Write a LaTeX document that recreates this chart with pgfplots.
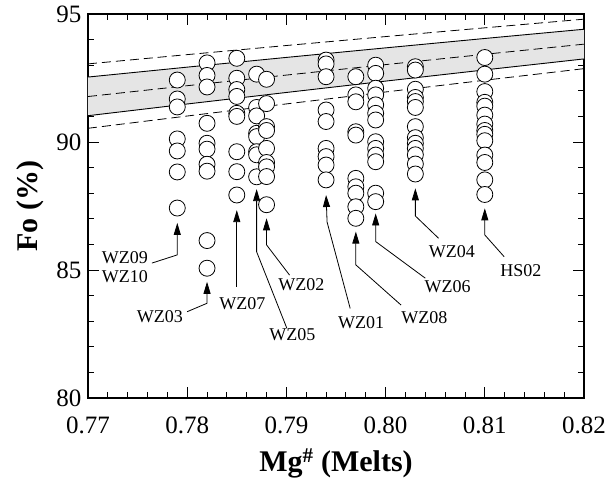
\documentclass[border=0pt]{standalone}
\usepackage{fontspec}
\setmainfont{Liberation Serif}
\usepackage{pgfplots}
\pgfplotsset{compat=1.18}
\usetikzlibrary{arrows.meta}
\pgfplotstableread{
x y
0.779 92.42
0.779 91.68
0.779 91.37
0.779 90.12
0.779 89.65
0.779 88.83
0.779 87.42
0.782 93.09
0.782 92.60
0.782 92.15
0.782 90.73
0.782 89.95
0.782 89.72
0.782 89.13
0.782 88.86
0.782 86.15
0.782 85.07
0.785 93.27
0.785 92.49
0.785 92.05
0.785 91.78
0.785 91.12
0.785 91.00
0.785 89.62
0.785 88.84
0.785 87.93
0.787 92.65
0.787 91.35
0.787 91.02
0.787 90.34
0.787 90.21
0.787 89.62
0.787 89.50
0.787 88.64
0.788 92.45
0.788 91.50
0.788 90.60
0.788 90.45
0.788 89.75
0.788 89.20
0.788 89.03
0.788 88.65
0.788 87.55
0.794 93.20
0.794 93.05
0.794 92.55
0.794 91.25
0.794 90.80
0.794 89.75
0.794 89.43
0.794 89.10
0.794 88.52
0.797 92.55
0.797 91.84
0.797 91.57
0.797 90.40
0.797 90.27
0.797 88.58
0.797 88.25
0.797 88.00
0.797 87.47
0.797 87.02
0.799 93.00
0.799 92.68
0.799 92.10
0.799 91.84
0.799 91.45
0.799 91.12
0.799 90.86
0.799 90.01
0.799 89.75
0.799 89.49
0.799 89.23
0.799 88.00
0.799 87.67
0.803 92.94
0.803 92.81
0.803 92.06
0.803 91.74
0.803 91.58
0.803 91.35
0.803 90.60
0.803 90.17
0.803 89.95
0.803 89.75
0.803 89.50
0.803 89.14
0.803 88.75
0.810 93.30
0.810 92.65
0.810 91.97
0.810 91.55
0.810 91.40
0.810 91.05
0.810 90.70
0.810 90.45
0.810 90.30
0.810 90.05
0.810 89.49
0.810 89.20
0.810 88.52
0.810 87.95
}\olivine
\begin{document}
\begin{tikzpicture}
\begin{axis}[name=ax, at={(0,0)}, anchor=south west,
  scale only axis, width=496pt, height=384pt,
  xmin=0.77, xmax=0.82, ymin=80, ymax=95,
  xtick={0.77,0.78,0.79,0.80,0.81,0.82},
  ytick={80,85,90,95},
  minor x tick num=4, minor y tick num=4,
  tick align=inside,
  major tick length=11pt, minor tick length=6pt,
  every tick/.style={black, line width=0.9pt},
  axis line style={line width=1.3pt},
  ticklabel style={font=\fontsize{25}{25}\selectfont},
  /pgf/number format/assume math mode=true,
  xticklabel style={/pgf/number format/.cd, fixed, fixed zerofill, precision=2, /tikz/.cd, yshift=-15pt},
  yticklabel style={/pgf/number format/.cd, fixed, precision=0, /tikz/.cd, xshift=-3pt},
  xlabel={Mg\textsuperscript{\#} (Melts)},
  ylabel={Fo (\%)},
  label style={font=\fontsize{30}{30}\selectfont\bfseries},
  xlabel style={at={(axis description cs:0.5,-0.17)}, anchor=center},
  ylabel style={at={(axis description cs:-0.117,0.5)}, anchor=center},
  clip=false]
% shaded band (Kd 0.27-0.33)
\addplot[draw=none, fill=gray!20] coordinates {
 (0.77,92.537) (0.78,92.924) (0.79,93.304) (0.80,93.677) (0.81,94.044) (0.82,94.404)
 (0.82,93.245) (0.81,92.816) (0.80,92.379) (0.79,91.935) (0.78,91.485) (0.77,91.027)} -- cycle;
\addplot[black, line width=0.9pt] coordinates {
 (0.77,92.537) (0.78,92.924) (0.79,93.304) (0.80,93.677) (0.81,94.044) (0.82,94.404)};
\addplot[black, line width=0.9pt] coordinates {
 (0.77,91.027) (0.78,91.485) (0.79,91.935) (0.80,92.379) (0.81,92.816) (0.82,93.245)};
\addplot[black, line width=0.8pt, dash pattern=on 9pt off 5pt] coordinates {
 (0.77,91.776) (0.78,92.199) (0.79,92.614) (0.80,93.023) (0.81,93.426) (0.82,93.822)};
\addplot[black, line width=0.8pt, dash pattern=on 9pt off 5pt] coordinates {
 (0.77,93.051) (0.78,93.413) (0.79,93.769) (0.80,94.118) (0.81,94.460) (0.82,94.798)};
\addplot[black, line width=0.8pt, dash pattern=on 9pt off 5pt] coordinates {
 (0.77,90.535) (0.78,91.015) (0.79,91.488) (0.80,91.954) (0.81,92.413) (0.82,92.865)};
% data
\addplot[only marks, mark=*, mark size=8pt, mark options={fill=white, draw=black, line width=0.8pt}] table[x=x,y=y] {\olivine};
% annotations
\tikzset{ann/.style={-{Triangle[length=12pt,width=7pt]}, line width=0.8pt},
         lab/.style={font=\fontsize{18}{18}\selectfont}}
\draw[ann] (axis cs:0.77644,85.27) -- (axis cs:0.779,85.59) -- (axis cs:0.779,86.84);
\node[lab] at (axis cs:0.77372,85.47) {WZ09};
\node[lab] at (axis cs:0.77372,84.73) {WZ10};
\draw[ann] (axis cs:0.77999,83.37) -- (axis cs:0.782,83.70) -- (axis cs:0.782,84.54);
\node[lab] at (axis cs:0.77724,83.18) {WZ03};
\draw[ann] (axis cs:0.785,84.35) -- (axis cs:0.785,87.34);
\node[lab] at (axis cs:0.78556,83.67) {WZ07};
\draw[ann] (axis cs:0.79005,82.72) -- (axis cs:0.787,85.71) -- (axis cs:0.787,88.16);
\node[lab] at (axis cs:0.79059,82.46) {WZ05};
\draw[ann] (axis cs:0.79032,84.80) -- (axis cs:0.788,85.98) -- (axis cs:0.788,87.02);
\node[lab] at (axis cs:0.79150,84.41) {WZ02};
\draw[ann] (axis cs:0.79643,83.50) -- (axis cs:0.7941,86.875) -- (axis cs:0.794,87.93);
\node[lab] at (axis cs:0.79754,82.94) {WZ01};
\draw[ann] (axis cs:0.80156,83.63) -- (axis cs:0.797,85.20) -- (axis cs:0.797,86.50);
\node[lab] at (axis cs:0.80390,83.15) {WZ08};
\draw[ann] (axis cs:0.80400,84.68) -- (axis cs:0.799,86.11) -- (axis cs:0.799,87.21);
\node[lab] at (axis cs:0.80625,84.35) {WZ06};
\draw[ann] (axis cs:0.80534,86.24) -- (axis cs:0.803,87.11) -- (axis cs:0.803,88.19);
\node[lab] at (axis cs:0.80669,85.71) {WZ04};
\draw[ann] (axis cs:0.81195,85.52) -- (axis cs:0.810,86.37) -- (axis cs:0.810,87.41);
\node[lab] at (axis cs:0.81363,84.97) {HS02};
\end{axis}
\pgfresetboundingbox
\path[use as bounding box] (ax.south west) ++(-88pt,-81pt) rectangle ++(610pt,479pt);
\end{tikzpicture}
\end{document}
